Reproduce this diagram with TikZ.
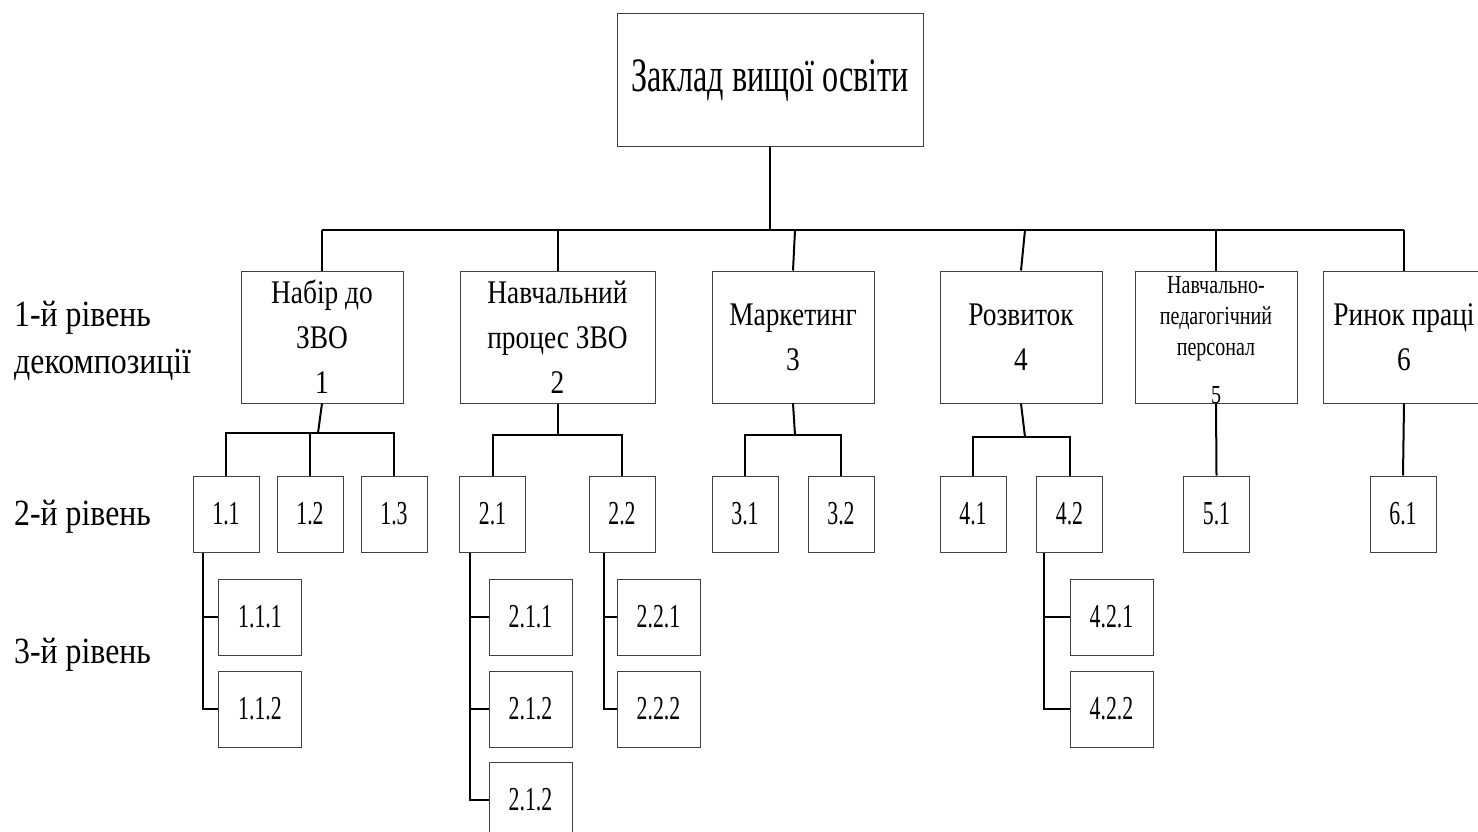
\documentclass[tikz,border=0pt]{standalone}
\usepackage{fontspec}
\setmainfont{Liberation Serif}
\newfontfamily\titlefont{Liberation Serif}[FakeStretch=0.67]
\newfontfamily\lonefont{Liberation Serif}[FakeStretch=0.83]
\newfontfamily\sidefont{Liberation Serif}[FakeStretch=0.86]
\newfontfamily\numfont{Liberation Serif}[FakeStretch=0.65]
\newfontfamily\smallfont{Liberation Serif}[FakeStretch=0.77]
\tikzset{
  box/.style={draw=black!75, line width=1pt, inner sep=0pt, align=center, fill=white},
  topbox/.style={box, minimum width=306pt, minimum height=133pt, font=\titlefont\fontsize{48}{56}\selectfont},
  lone/.style={box, minimum width=162pt, minimum height=132pt, font=\lonefont\fontsize{33}{45}\selectfont},
  ltwo/.style={box, minimum width=66pt, minimum height=76pt, font=\numfont\fontsize{33.5}{38}\selectfont},
  lthree/.style={box, minimum width=83pt, minimum height=76pt, font=\numfont\fontsize{33.5}{38}\selectfont},
  side/.style={anchor=west, align=left, inner sep=0pt, font=\sidefont\fontsize{37}{47}\selectfont},
  conn/.style={line width=2pt, black},
}
\begin{document}
\begin{tikzpicture}[x=1pt,y=-1pt]
\useasboundingbox (0,0) rectangle (1478,832);
% top
\node[topbox] (top) at (770,80.5) {Заклад вищої освіти};
% level 1
\node[lone] (n1) at (322,337) {Набір до\\ЗВО\\1};
\node[lone, minimum width=195pt] (n2) at (557.5,337) {Навчальний\\процес ЗВО\\2};
\node[lone] (n3) at (793,337) {Маркетинг\\3};
\node[lone] (n4) at (1021,337) {Розвиток\\4};
\node[lone] (n5) at (1216,337) {};
\node[anchor=north, align=center, inner sep=0pt, font=\smallfont\fontsize{26}{31}\selectfont] (n5t) at (1216,276) {Навчально-\\педагогічний\\персонал\\[17pt]5};
\node[lone] (n6) at (1404,337) {Ринок праці\\6};
% side labels
\node[side] (s1) at (14,341) {1-й рівень\\декомпозиції};
\node[side] (s2) at (14,517) {2-й рівень};
\node[side] (s3) at (14,655) {3-й рівень};
% level 2
\node[ltwo] (n11) at (226,514) {1.1};
\node[ltwo] (n12) at (310,514) {1.2};
\node[ltwo] (n13) at (394,514) {1.3};
\node[ltwo] (n21) at (492.5,514) {2.1};
\node[ltwo] (n22) at (622,514) {2.2};
\node[ltwo] (n31) at (745,514) {3.1};
\node[ltwo] (n32) at (841,514) {3.2};
\node[ltwo] (n41) at (973,514) {4.1};
\node[ltwo] (n42) at (1069.5,514) {4.2};
\node[ltwo] (n51) at (1216.5,514) {5.1};
\node[ltwo] (n61) at (1403,514) {6.1};
% level 3
\node[lthree] (n111) at (260,617) {1.1.1};
\node[lthree] (n112) at (260,709) {1.1.2};
\node[lthree] (n211) at (530.5,617) {2.1.1};
\node[lthree] (n212) at (530.5,709) {2.1.2};
\node[lthree] (n213) at (530.5,800) {2.1.2};
\node[lthree] (n221) at (658.5,617) {2.2.1};
\node[lthree] (n222) at (658.5,709) {2.2.2};
\node[lthree] (n421) at (1111.5,617) {4.2.1};
\node[lthree] (n422) at (1111.5,709) {4.2.2};
% main bus
\coordinate (bL) at (322,230);
\coordinate (bR) at (1404,230);
\coordinate (bT) at (770,230);
\coordinate (b3) at (795,230);
\coordinate (b4) at (1025,230);
\draw[conn] (top.south) -- (bT);
\draw[conn] (bL) -- (bR);
\draw[conn] (bL) -- (n1.north);
\draw[conn] (n2.north|-bL) -- (n2.north);
\draw[conn] (b3) -- (n3.north);
\draw[conn] (b4) -- (n4.north);
\draw[conn] (n5.north|-bL) -- (n5.north);
\draw[conn] (bR) -- (n6.north);
% sub buses
\coordinate (c1) at (318,433);
\draw[conn] (n1.south) -- (c1);
\draw[conn] (n11.north) -- (n11.north|-c1) -- (n13.north|-c1) -- (n13.north);
\draw[conn] (n12.north) -- (n12.north|-c1);
\coordinate (c2) at (557.5,435);
\draw[conn] (n2.south) -- (c2);
\draw[conn] (n21.north) -- (n21.north|-c2) -- (n22.north|-c2) -- (n22.north);
\coordinate (c3) at (795,435);
\draw[conn] (n3.south) -- (c3);
\draw[conn] (n31.north) -- (n31.north|-c3) -- (n32.north|-c3) -- (n32.north);
\coordinate (c4) at (1025,437);
\draw[conn] (n4.south) -- (c4);
\draw[conn] (n41.north) -- (n41.north|-c4) -- (n42.north|-c4) -- (n42.north);
\draw[conn] (n5.south) -- (n51.north);
\draw[conn] (n6.south) -- (n61.north);
% level 3 spines
\draw[conn] ([xshift=10pt]n11.south west) |- (n111.west);
\draw[conn] ([xshift=10pt]n11.south west) |- (n112.west);
\draw[conn] ([xshift=11pt]n21.south west) |- (n211.west);
\draw[conn] ([xshift=11pt]n21.south west) |- (n212.west);
\draw[conn] ([xshift=11pt]n21.south west) |- (n213.west);
\draw[conn] ([xshift=15pt]n22.south west) |- (n221.west);
\draw[conn] ([xshift=15pt]n22.south west) |- (n222.west);
\draw[conn] ([xshift=8pt]n42.south west) |- (n421.west);
\draw[conn] ([xshift=8pt]n42.south west) |- (n422.west);
\end{tikzpicture}
\end{document}
